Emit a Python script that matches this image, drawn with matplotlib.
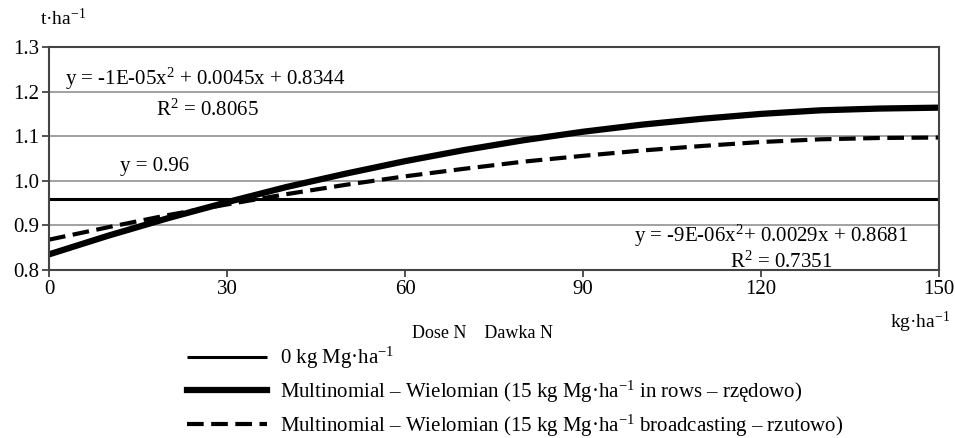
import matplotlib
matplotlib.use("Agg")
import matplotlib.pyplot as plt

plt.rcParams['font.family'] = ['Liberation Serif', 'DejaVu Serif']
plt.rcParams['mathtext.fontset'] = 'custom'
plt.rcParams['mathtext.rm'] = 'Liberation Serif'
plt.rcParams['mathtext.it'] = 'Liberation Serif'
plt.rcParams['mathtext.default'] = 'regular'

# Data
dose = [0, 10, 20, 30, 40, 50, 60, 70, 80, 90, 100, 110, 120, 130, 140, 150]
rows_yield = [0.835, 0.877, 0.916, 0.952, 0.986, 1.016, 1.044, 1.069,
              1.091, 1.110, 1.126, 1.139, 1.150, 1.158, 1.162, 1.164]
broadcast_yield = [0.868, 0.896, 0.923, 0.947, 0.970, 0.991, 1.010, 1.027,
                   1.043, 1.056, 1.068, 1.078, 1.087, 1.093, 1.096, 1.097]
control_yield = 0.96
x_ticks = [0, 30, 60, 90, 120, 150]
y_ticks = [0.8, 0.9, 1.0, 1.1, 1.2, 1.3]
labels = ['0 kg Mg·ha$^{-1}$',
          'Multinomial – Wielomian (15 kg Mg·ha$^{-1}$ in rows – rzędowo)',
          'Multinomial – Wielomian (15 kg Mg·ha$^{-1}$ broadcasting – rzutowo)']

W, H = 955, 438
fig = plt.figure(figsize=(W / 100, H / 100), dpi=100)
ax = fig.add_axes([49 / W, 1 - 270 / H, (939 - 49) / W, (270 - 47) / H])

ax.set_xlim(0, 150)
ax.set_ylim(0.8, 1.3)
ax.set_xticks(x_ticks)
ax.set_yticks(y_ticks)
ax.set_xticklabels([str(t) for t in x_ticks])
ax.set_yticklabels([f"{t:.1f}" for t in y_ticks])
ax.grid(axis='y', color='#9a9a9a', linewidth=1.3)
ax.set_axisbelow(True)
for s in ax.spines.values():
    s.set_color('#444444')
    s.set_linewidth(1.5)
ax.tick_params(axis='both', labelsize=15, color='#444444', width=1.3, length=5,
               direction='out', pad=2)

l0, = ax.plot(dose, [control_yield] * len(dose), color='black', linewidth=2.2,
              solid_capstyle='butt')
l1, = ax.plot(dose, rows_yield, color='black', linewidth=4.5)
l2, = ax.plot(dose, broadcast_yield, color='black', linewidth=3,
              dashes=(4, 1.8))

fig.text(65 / W, 1 - 79 / H, 'y = -1E-05x$^{2}$ + 0.0045x + 0.8344',
         fontsize=15, va='center', ha='left')
fig.text(156 / W, 1 - 110 / H, 'R$^{2}$ = 0.8065', fontsize=15, va='center', ha='left')
fig.text(120 / W, 1 - 166 / H, 'y = 0.96', fontsize=15, va='center', ha='left')
fig.text(634 / W, 1 - 236 / H, 'y = -9E-06x$^{2}$+ 0.0029x + 0.8681',
         fontsize=15, va='center', ha='left')
fig.text(730 / W, 1 - 262 / H, 'R$^{2}$ = 0.7351', fontsize=15, va='center', ha='left')

fig.text(40 / W, 1 - 18 / H, 't·ha$^{-1}$', fontsize=14, va='center', ha='left')
fig.text(890 / W, 1 - 322 / H, 'kg·ha$^{-1}$', fontsize=14, va='center', ha='left')
fig.text(482 / W, 1 - 333 / H, 'Dose N    Dawka N', fontsize=13, va='center', ha='center')

leg = fig.legend([l0, l1, l2], labels, loc='upper left',
                 bbox_to_anchor=(187 / W, 1 - 345 / H), frameon=False,
                 fontsize=15, handlelength=3.85, handletextpad=0.62,
                 labelspacing=0.36, borderaxespad=0, borderpad=0)

fig.savefig('out.png', dpi=100)
